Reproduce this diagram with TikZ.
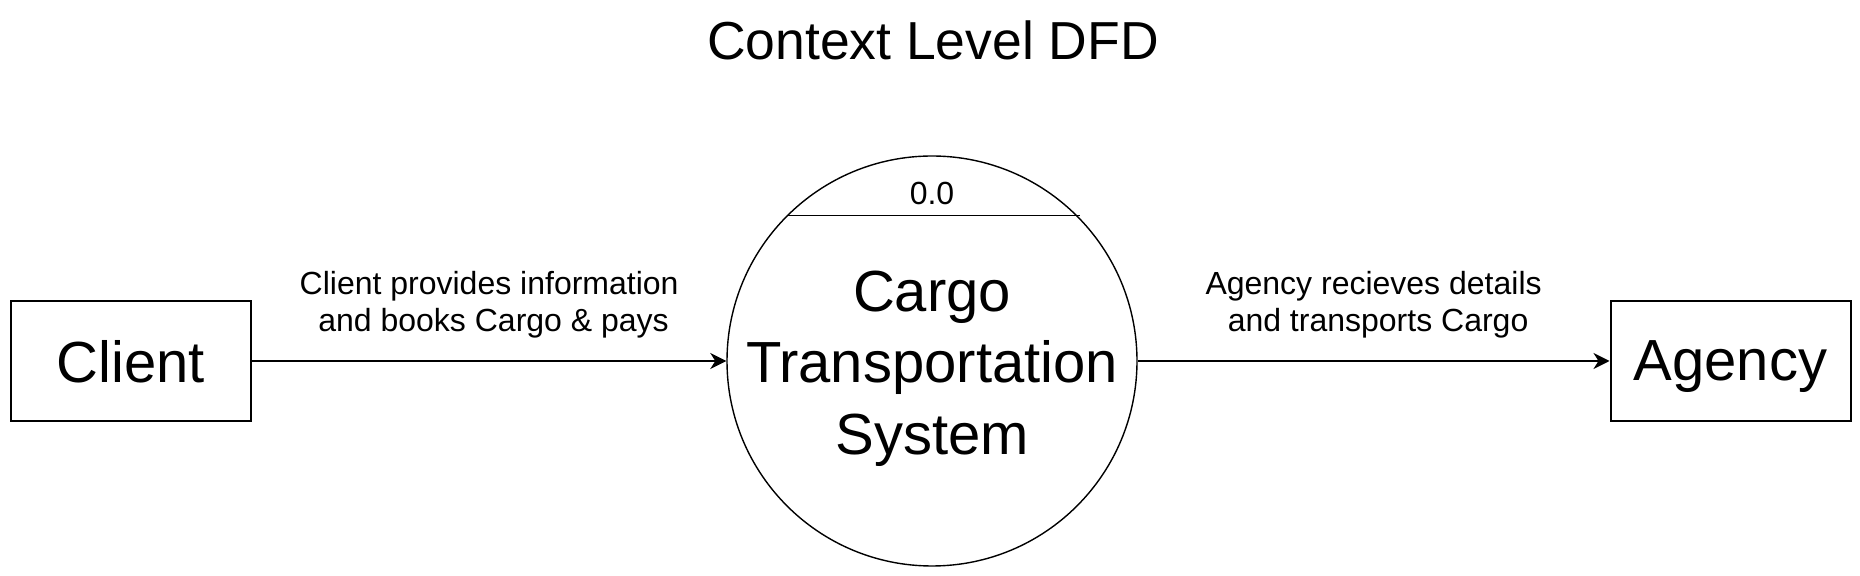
\documentclass[tikz,border=0pt]{standalone}
\usepackage{fontspec}
\setmainfont{Liberation Sans}
\usetikzlibrary{arrows.meta}

\begin{document}
\begin{tikzpicture}[x=0.5pt,y=-0.5pt,text centered]
    \tikzstyle{box}=[draw,line width=1pt,minimum width=120pt,minimum height=60pt,inner sep=0pt,text depth=0pt,font=\fontsize{29}{35}\selectfont]
    \tikzstyle{proc}=[draw,circle,line width=0.7pt,minimum size=205pt,inner sep=0pt]
    \tikzstyle{lbl}=[align=center,inner sep=0pt,font=\fontsize{16}{18.5}\selectfont]
    \tikzstyle{flow}=[-{Stealth[length=8pt,width=8pt,inset=2.5pt]},line width=1pt]
    \useasboundingbox (0,0) rectangle (1860,576);

    \node[anchor=base,font=\fontsize{26.75}{32}\selectfont] (title) at (933,60) {Context Level DFD};

    \node[box] (client) at (131,361) {Client};
    \node[proc] (sys) at (932,361) {};
    \node[box] (agency) at (1730.5,361) {Agency};

    \node[align=center,font=\fontsize{29}{35.75}\selectfont] (systxt) at ([yshift=-3.75pt]sys.center) {Cargo\\Transportation\\System};
    \node[font=\fontsize{16}{19}\selectfont] (num) at (932,193) {0.0};
    \draw[line width=0.7pt] (sys.135.4) -- (sys.135.4 -| sys.44.6);

    \draw[flow] (client) -- node[lbl,above=11pt] {Client provides information\\\ and books Cargo \& pays} (sys);
    \draw[flow] (sys) -- node[lbl,above=11pt] {Agency recieves details\\\ and transports Cargo} (agency);
\end{tikzpicture}
\end{document}
